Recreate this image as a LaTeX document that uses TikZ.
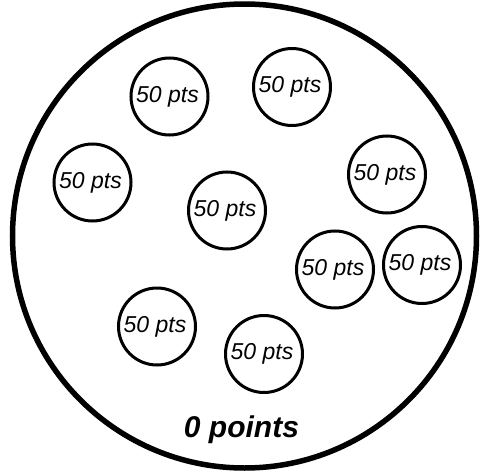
\documentclass[tikz,border=0pt]{standalone}
\usepackage{fontspec}
\setmainfont{Liberation Sans}
\begin{document}
\begin{tikzpicture}[x=1pt,y=-1pt,
  coin/.style={circle,draw=black,line width=3pt,minimum size=77pt,inner sep=0pt,
    font=\fontsize{23}{26}\selectfont\itshape},
  outer/.style={circle,draw=black,line width=5.5pt,minimum size=464pt,inner sep=0pt}]
\useasboundingbox (0,0) rectangle (483,474);
\node[outer] (big) at (244.5,236) {};
\node[coin] (c1) at (169.5,96.5) {\hspace*{-4pt}50 pts};
\node[coin] (c2) at (292,87) {\hspace*{-4pt}50 pts};
\node[coin] (c3) at (92.5,182.5) {\hspace*{-4pt}50 pts};
\node[coin] (c4) at (387,174.5) {\hspace*{-4pt}50 pts};
\node[coin] (c5) at (227,210.5) {\hspace*{-4pt}50 pts};
\node[coin] (c6) at (335,269.5) {\hspace*{-4pt}50 pts};
\node[coin] (c7) at (422,265) {\hspace*{-4pt}50 pts};
\node[coin] (c8) at (157,326.5) {\hspace*{-4pt}50 pts};
\node[coin] (c9) at (264,354) {\hspace*{-4pt}50 pts};
\node[font=\fontsize{30}{32}\selectfont\bfseries\itshape] (lbl) at (241.5,430) {0 points};
\end{tikzpicture}
\end{document}
